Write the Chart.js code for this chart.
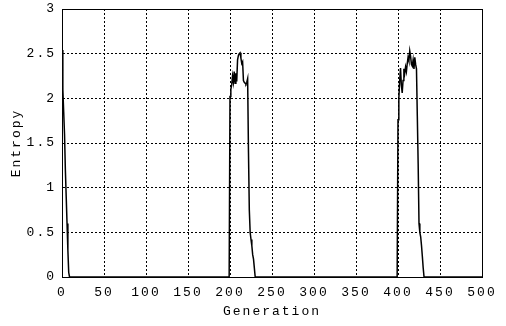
<!DOCTYPE html>
<html>
<head>
<meta charset="utf-8">
<script src="https://cdn.jsdelivr.net/npm/chart.js@4"></script>
<style>
html,body{margin:0;padding:0;background:#fff;}
#wrap{width:506px;height:326px;}
</style>
</head>
<body>
<div id="wrap"><canvas id="c" width="506" height="326"></canvas></div>
<script>
// Generation (x) and entropy (y)
const generations = [
  0,1,2,3,4,5,6,7,8,9,
  199,200,201,202,203,204,205,206,207,208,209,210,211,212,213,214,215,216,217,218,219,220,221,222,223,224,225,226,227,228,229,230,
  399,400,401,402,403,404,405,406,407,408,409,410,411,412,413,414,415,416,417,418,419,420,421,422,423,424,425,426,427,428,429,430,431,
  500
];
const entropy = [
  2.54,2.1,1.85,1.6,1.2,0.9,0.6,0.3,0.05,0,
  0,2.02,2.1,2.15,2.25,2.18,2.3,2.17,2.28,2.19,2.43,2.48,2.5,2.51,2.45,2.39,2.41,2.2,2.18,2.17,2.16,2.18,2.22,1.4,0.75,0.5,0.42,0.35,0.25,0.2,0.1,0,
  0,1.76,2.0,2.2,2.34,2.15,2.06,2.2,2.33,2.28,2.35,2.3,2.39,2.46,2.42,2.53,2.47,2.38,2.36,2.43,2.33,2.46,2.38,2.33,1.8,1.27,0.6,0.5,0.45,0.35,0.23,0.1,0,
  0
];
const xTicks = [0,50,100,150,200,250,300,350,400,450,500];
const yTicks = [0,0.5,1,1.5,2,2.5,3];

const points = generations.map((g,i)=>({x:g,y:entropy[i]}));
const FONT = {family:"'Liberation Mono', 'Courier New', monospace", size:13};

const spacing = {
  id:'spacing',
  beforeDraw(chart){ chart.ctx.letterSpacing='2px'; },
  afterDraw(chart){
    const {ctx, chartArea:a} = chart;
    ctx.save();
    ctx.setLineDash([]);
    ctx.strokeStyle='#000';
    ctx.lineWidth=1;
    ctx.strokeRect(Math.round(a.left)+0.5, Math.round(a.top)+0.5, Math.round(a.right-a.left), Math.round(a.bottom-a.top));
    ctx.restore();
  }
};

new Chart(document.getElementById('c'), {
  type:'line',
  data:{datasets:[{data:points, borderColor:'#000', borderWidth:1.5, pointRadius:0, tension:0, fill:false}]},
  options:{
    responsive:false, animation:false, devicePixelRatio:1,
    layout:{padding:{left:0,right:24,top:9,bottom:0}},
    plugins:{legend:{display:false}, tooltip:{enabled:false}},
    scales:{
      x:{
        type:'linear', min:0, max:500,
        afterBuildTicks(s){ s.ticks = xTicks.map(v=>({value:v})); },
        afterFit(s){ s.height = 49; s.paddingLeft = 0; s.paddingRight = 0; },
        grid:{color:'#000', lineWidth:1, drawTicks:false},
        border:{display:true, color:'#000', dash:[2,2]},
        ticks:{color:'#000', font:FONT, padding:8, maxRotation:0, autoSkip:false, callback:v=>String(v)},
        title:{display:true, text:'Generation', color:'#000', font:FONT, padding:{top:4,bottom:7}}
      },
      y:{
        type:'linear', min:0, max:3,
        afterBuildTicks(s){ s.ticks = yTicks.map(v=>({value:v})); },
        afterFit(s){ s.width = 62; s.paddingTop = 0; s.paddingBottom = 0; },
        grid:{color:'#000', lineWidth:1, drawTicks:false},
        border:{display:true, color:'#000', dash:[2,2]},
        ticks:{color:'#000', font:FONT, padding:6, autoSkip:false, callback:v=>String(v)},
        title:{display:true, text:'Entropy', color:'#000', font:FONT, padding:{top:9,bottom:4}}
      }
    }
  },
  plugins:[spacing]
});
</script>
</body>
</html>
